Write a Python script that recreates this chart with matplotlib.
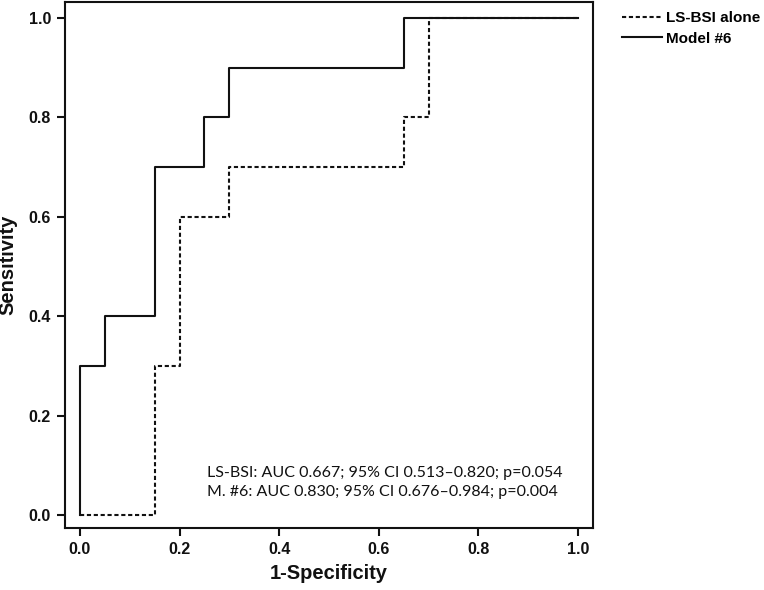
import matplotlib
matplotlib.use("Agg")
import matplotlib.pyplot as plt

# ROC step points (1-specificity, sensitivity)
lsbsi_fpr = [0.0, 0.15, 0.15, 0.20, 0.20, 0.30, 0.30, 0.65, 0.65, 0.70, 0.70, 1.0]
lsbsi_tpr = [0.0, 0.0, 0.3, 0.3, 0.6, 0.6, 0.7, 0.7, 0.8, 0.8, 1.0, 1.0]
m6_fpr = [0.0, 0.0, 0.05, 0.05, 0.15, 0.15, 0.25, 0.25, 0.30, 0.30, 0.65, 0.65, 1.0]
m6_tpr = [0.0, 0.3, 0.3, 0.4, 0.4, 0.7, 0.7, 0.8, 0.8, 0.9, 0.9, 1.0, 1.0]
series_labels = ["LS-BSI alone", "Model #6"]
ticks = [0.0, 0.2, 0.4, 0.6, 0.8, 1.0]
tick_labels = ["0.0", "0.2", "0.4", "0.6", "0.8", "1.0"]
annot_lines = ["LS-BSI: AUC 0.667; 95% CI 0.513\u20130.820; p=0.054",
               "M. #6: AUC 0.830; 95% CI 0.676\u20130.984; p=0.004"]

fig = plt.figure(figsize=(7.64, 5.90), dpi=100)
ax = fig.add_axes([65/764, 62/590, 528/764, 526/590])

l1, = ax.plot(lsbsi_fpr, lsbsi_tpr, color="#111111", lw=1.5, dashes=(2, 1.3))
l2, = ax.plot(m6_fpr, m6_tpr, color="#111111", lw=1.5)

ax.set_xlim(-0.030, 1.030)
ax.set_ylim(-0.026, 1.032)
ax.set_xticks(ticks)
ax.set_xticklabels(tick_labels)
ax.set_yticks(ticks)
ax.set_yticklabels(tick_labels)
for s in ax.spines.values():
    s.set_linewidth(1.5)
    s.set_color("#111111")
ax.tick_params(direction="out", length=6, width=1.5, color="#111111", pad=4)
for lab in ax.get_xticklabels() + ax.get_yticklabels():
    lab.set_fontfamily("Liberation Sans")
    lab.set_fontweight("bold")
    lab.set_fontsize(11.5)
    lab.set_color("#111111")

ax.set_xlabel("1-Specificity", fontfamily="Liberation Sans", fontweight="bold",
              fontsize=14.5, color="#111111", labelpad=5)
ax.set_ylabel("Sensitivity", fontfamily="Liberation Sans", fontweight="bold",
              fontsize=14.5, color="#111111", labelpad=8)

ax.text(0.256, 0.066, annot_lines[0] + "\n" + annot_lines[1], fontfamily="Lato",
        fontsize=11.5, color="#111111", linespacing=1.45, va="center", ha="left")

leg = fig.legend([l1, l2], series_labels, loc="upper left",
                 bbox_to_anchor=(611/764, 1.0), frameon=False,
                 prop={"family": "Liberation Sans", "weight": "bold", "size": 11},
                 handlelength=2.6, handletextpad=0.25, labelspacing=0.4,
                 borderaxespad=0.35)

fig.savefig("out.png", dpi=100)
